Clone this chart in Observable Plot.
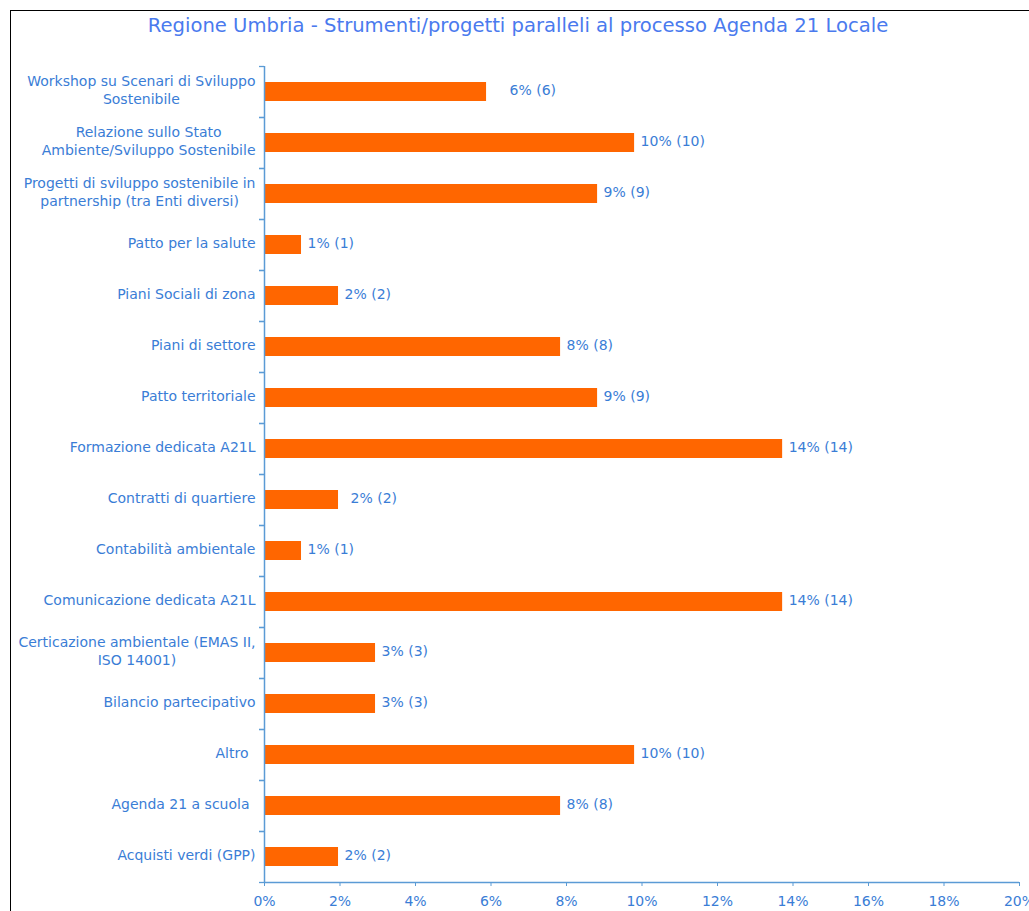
<!DOCTYPE html>
<html>
<head>
<meta charset="utf-8">
<script src="https://cdn.jsdelivr.net/npm/d3@7"></script>
<script src="https://cdn.jsdelivr.net/npm/@observablehq/plot@0.6"></script>
<style>
  html, body { margin: 0; padding: 0; background: #fff; overflow: hidden; }
  #wrap { position: relative; width: 1029px; height: 911px; overflow: hidden; font-family: "DejaVu Sans", Verdana, sans-serif; }
  #frame { position: absolute; left: 10px; top: 10px; width: 1200px; height: 1200px; border-left: 1.5px solid #000; border-top: 1.5px solid #000; }
  #title { position: absolute; left: 0; top: 14px; width: 1036px; text-align: center; font-size: 19.6px; color: #4a7aee; white-space: nowrap; }
  #chart { position: absolute; left: 0; top: 0; }
</style>
</head>
<body>
<div id="wrap">
  <div id="frame"></div>
  <div id="chart"></div>
  <div id="title">Regione Umbria - Strumenti/progetti paralleli al processo Agenda 21 Locale</div>
</div>
<script>
const categories = [
  "Workshop su Scenari di Sviluppo\nSostenibile",
  "Relazione sullo Stato\nAmbiente/Sviluppo Sostenibile",
  "Progetti di sviluppo sostenibile in\npartnership (tra Enti diversi)",
  "Patto per la salute",
  "Piani Sociali di zona",
  "Piani di settore",
  "Patto territoriale",
  "Formazione dedicata A21L",
  "Contratti di quartiere",
  "Contabilità ambientale",
  "Comunicazione dedicata A21L",
  "Certicazione ambientale (EMAS II,\nISO 14001)",
  "Bilancio partecipativo",
  "Altro",
  "Agenda 21 a scuola",
  "Acquisti verdi (GPP)"
];
const counts = [6, 10, 9, 1, 2, 8, 9, 14, 2, 1, 14, 3, 3, 10, 8, 2];
const total = 102;
const xTicks = [0, 2, 4, 6, 8, 10, 12, 14, 16, 18, 20];

const data = categories.map((c, i) => ({cat: c, count: counts[i], pct: counts[i] / total * 100, i}));

const labelColor = "#3a7dd6";
const axisColor = "#5b9bd5";
const barColor = "#ff6600";
const mTop = 66, mBottom = 29, H = 911;
const step = (H - mTop - mBottom) / categories.length;

// label placement tweaks (style only)
const valueGap = {0: 23, 8: 12};
const catGap = {13: 16, 14: 15};

const valueText = d => `${Math.round(d.pct)}% (${d.count})`;
const valueMarks = [...new Set(data.map(d => valueGap[d.i] ?? 6))].map(g =>
  Plot.text(data.filter(d => (valueGap[d.i] ?? 6) === g), {x: "pct", y: "cat", text: valueText, textAnchor: "start", dx: g, dy: -1, fill: labelColor, fontSize: 14})
);
const catMarks = [...new Set(data.map(d => catGap[d.i] ?? 9))].map(g =>
  Plot.text(data.filter(d => (catGap[d.i] ?? 9) === g), {x: 0, y: "cat", text: "cat", textAnchor: "end", dx: -g, dy: -2.5, fill: labelColor, fontSize: 14, lineHeight: 1.25, className: "ylab"})
);

const chart = Plot.plot({
  width: 1029,
  height: H,
  marginTop: mTop,
  marginBottom: mBottom,
  marginLeft: 264,
  marginRight: 10,
  style: {fontFamily: "DejaVu Sans, Verdana, sans-serif", background: "transparent", overflow: "visible"},
  x: {domain: [0, 20]},
  y: {domain: categories, paddingInner: 0.63, paddingOuter: 0.315, axis: null},
  marks: [
    Plot.barX(data, {x: "pct", y: "cat", fill: barColor}),
    ...valueMarks,
    ...catMarks,
    Plot.ruleY(categories, {y: d => d, x1: 0, x2: 0, dx: -5, dy: -step / 2, stroke: axisColor, strokeWidth: 1.3, className: "ytick"}),
    Plot.ruleY(categories, {y: d => d, x1: 0, x2: 0, dx: -5, dy: step / 2, stroke: axisColor, strokeWidth: 1.3, className: "ytick"}),
    Plot.ruleX([0], {stroke: axisColor, strokeWidth: 1.5}),
    Plot.axisX({ticks: xTicks, tickFormat: d => d + "%", tickSize: 4, tickPadding: 10, stroke: axisColor, fill: labelColor, fontSize: 14, label: null}),
    Plot.ruleY(data.slice(-1), {y: "cat", x1: 0, x2: 20, dy: step / 2, stroke: axisColor, strokeWidth: 1.5})
  ]
});
document.getElementById("chart").appendChild(chart);

chart.querySelectorAll("g.ytick line").forEach(l => {
  const x = +l.getAttribute("x1");
  l.setAttribute("x2", x + 5);
});

chart.querySelectorAll("g.ylab text").forEach(t => {
  const spans = t.querySelectorAll("tspan");
  if (spans.length < 2) return;
  const widths = Array.from(spans, s => s.getComputedTextLength());
  const W = Math.max(...widths);
  spans.forEach((s, i) => s.setAttribute("x", -(W - widths[i]) / 2));
});
</script>
</body>
</html>
